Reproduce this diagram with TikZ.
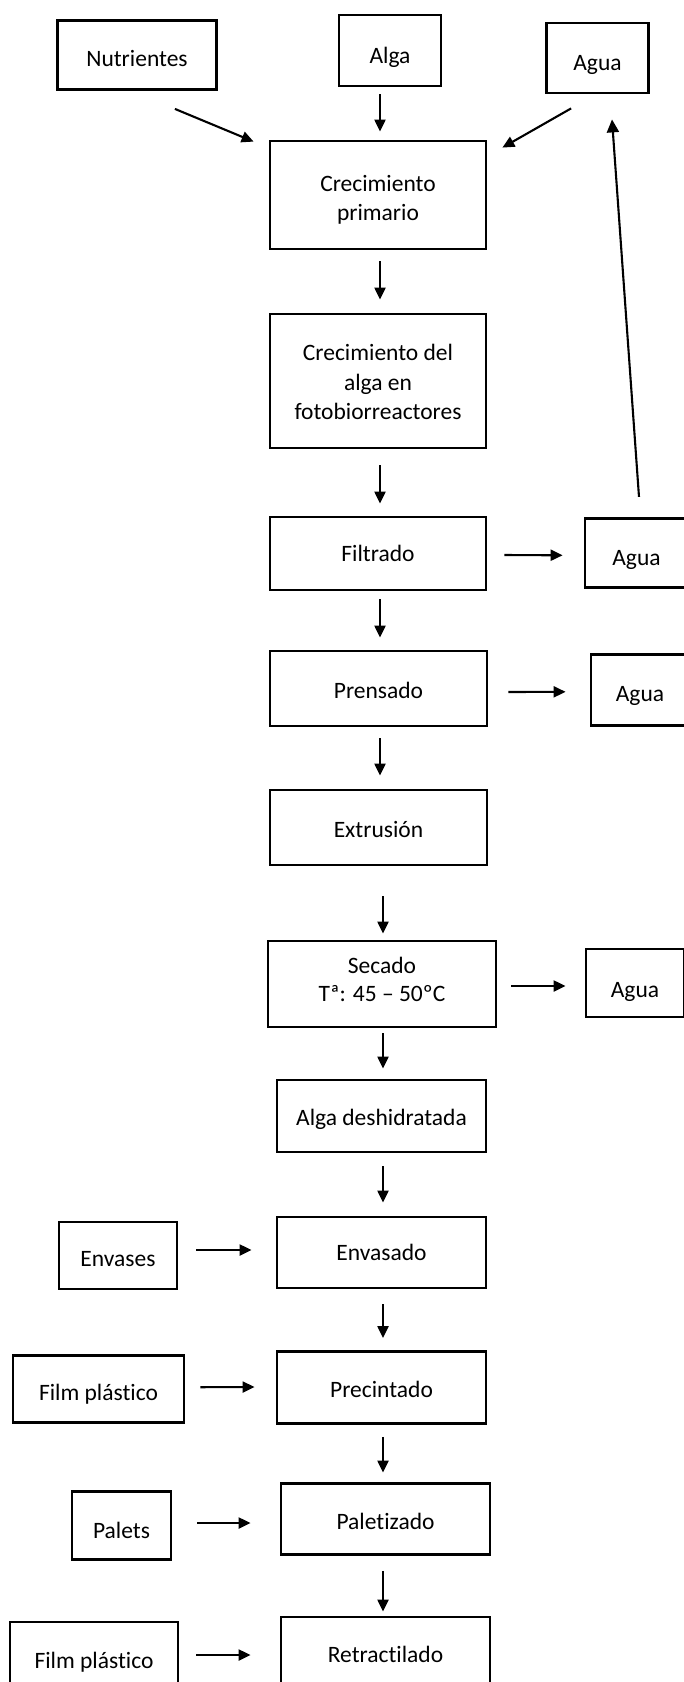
\documentclass[tikz,border=0pt]{standalone}
\usepackage{fontspec}
\setmainfont[Ligatures=NoCommon]{Carlito}
\usetikzlibrary{arrows.meta}
\tikzset{
  pbox/.style={draw, line width=2.8pt, align=center, inner sep=0pt, font=\fontsize{23.5}{29}\selectfont},
  tbase/.style={text height=#1, text depth=0pt},
  arr/.style={line width=2.1pt, -{Triangle[length=12pt,width=11pt]}},
  retl/.style={line width=2.1pt, -{Triangle[length=13pt,width=12pt]}}
}
\begin{document}
\begin{tikzpicture}[x=1pt,y=-1pt]
\useasboundingbox (0,0) rectangle (683,1682);
% top inputs
\node[pbox, tbase=23.4pt, minimum width=159pt, minimum height=69pt] (nut) at (137,55) {Nutrientes};
\node[pbox, tbase=25pt, minimum width=102pt, minimum height=71pt] (alga) at (390,50.5) {Alga};
\node[pbox, tbase=24pt, minimum width=102pt, minimum height=70pt] (aguaT) at (597.5,58) {Agua};
% main column
\node[pbox, font=\fontsize{23.5}{28.3}\selectfont, minimum width=216pt, minimum height=108pt] (cp) at (378,195)
  {\rule{0pt}{27.7pt}Crecimiento\\primario\rule[-6pt]{0pt}{6pt}};
\node[pbox, font=\fontsize{23.5}{29.6}\selectfont, minimum width=216pt, minimum height=134pt] (cda) at (378,381)
  {\rule{0pt}{24.6pt}Crecimiento del\\alga en\\fotobiorreactores\rule[-6pt]{0pt}{6pt}};
\node[pbox, tbase=16.4pt, minimum width=216pt, minimum height=73pt] (fil) at (378,553.5) {Filtrado};
\node[pbox, tbase=20pt, minimum width=217pt, minimum height=75pt] (pre) at (378.5,688.5) {Prensado};
\node[pbox, tbase=19.6pt, minimum width=217pt, minimum height=75pt] (ext) at (378.5,827.5) {Extrusión};
\node[pbox, font=\fontsize{23.5}{28.3}\selectfont, minimum width=228pt, minimum height=86pt] (sec) at (382,984)
  {\rule{0pt}{17pt}Secado\\Tª: 45 – 50ºC\rule[-10.1pt]{0pt}{10.1pt}};
\node[pbox, tbase=18.4pt, minimum width=209pt, minimum height=72pt] (ad) at (381.5,1116) {Alga deshidratada};
\node[pbox, tbase=15pt, minimum width=209pt, minimum height=71pt] (env) at (381.5,1252.5) {Envasado};
\node[pbox, tbase=19.6pt, minimum width=209pt, minimum height=72pt] (prec) at (381.5,1387.5) {Precintado};
\node[pbox, tbase=20.6pt, minimum width=209pt, minimum height=71pt] (pal) at (385.5,1519) {Paletizado};
\node[pbox, tbase=20pt, minimum width=209pt, minimum height=70pt] (ret) at (385.5,1652) {Retractilado};
% right outputs
\node[pbox, tbase=24.4pt, minimum width=103pt, minimum height=69pt] (agua2) at (636.5,552.8) {Agua};
\node[pbox, tbase=22.6pt, minimum width=98pt, minimum height=71pt] (agua3) at (640,690.3) {Agua};
\node[pbox, tbase=28pt, minimum width=98pt, minimum height=68pt] (agua4) at (635,983) {Agua};
% left inputs
\node[pbox, tbase=22pt, minimum width=118pt, minimum height=67pt] (envs) at (118,1255.5) {Envases};
\node[pbox, tbase=22.6pt, minimum width=171pt, minimum height=67pt] (film1) at (98.5,1388.7) {Film plástico};
\node[pbox, tbase=25.6pt, minimum width=99pt, minimum height=68pt] (palets) at (121.5,1525.5) {Palets};
\node[pbox, tbase=24pt, minimum width=168pt, minimum height=68pt] (film2) at (94,1656) {Film plástico};
% arrows
\draw[arr] ([shift={(-43,18)}]nut.south east) -- ([shift={(-15,2)}]cp.north west);
\draw[arr] ([shift={(-10,7)}]alga.south) -- ([shift={(2,-8)}]cp.north);
\draw[arr] ([shift={(26,14)}]aguaT.south west) -- ([shift={(15,8)}]cp.north east);
\draw[arr] ([shift={(2,11)}]cp.south) -- ([shift={(2,-13)}]cda.north);
\draw[arr] ([shift={(2,16)}]cda.south) -- ([shift={(2,-12)}]fil.north);
\draw[arr] ([shift={(17,1.5)}]fil.east) -- ([shift={(-21,2.5)}]agua2.west);
\draw[retl] ([shift={(2.5,-20)}]agua2.north) -- ([shift={(14.5,25)}]aguaT.south);
\draw[arr] ([shift={(2,8)}]fil.south) -- ([shift={(1.5,-12)}]pre.north);
\draw[arr] ([shift={(20,3.5)}]pre.east) -- ([shift={(-24,1.5)}]agua3.west);
\draw[arr] ([shift={(1.5,11)}]pre.south) -- ([shift={(1.5,-13)}]ext.north);
\draw[arr] ([shift={(4.5,30)}]ext.south) -- ([shift={(1,-6)}]sec.north);
\draw[arr] ([shift={(14,2)}]sec.east) -- ([shift={(-19,3)}]agua4.west);
\draw[arr] ([shift={(1,5)}]sec.south) -- ([shift={(1.5,-10)}]ad.north);
\draw[arr] ([shift={(1.5,13)}]ad.south) -- ([shift={(1.5,-13)}]env.north);
\draw[arr] ([shift={(18,-5.5)}]envs.east) -- ([shift={(-24,-2.5)}]env.west);
\draw[arr] ([shift={(1.5,15)}]env.south) -- ([shift={(1.5,-12)}]prec.north);
\draw[arr] ([shift={(15,-1.5)}]film1.east) -- ([shift={(-21,-0.5)}]prec.west);
\draw[arr] ([shift={(1.5,12)}]prec.south) -- ([shift={(-2.5,-9.5)}]pal.north);
\draw[arr] ([shift={(25,-2.5)}]palets.east) -- ([shift={(-29,4)}]pal.west);
\draw[arr] ([shift={(-2.5,15)}]pal.south) -- ([shift={(-2.5,-4)}]ret.north);
\draw[arr] ([shift={(17,-1)}]film2.east) -- ([shift={(-29,3)}]ret.west);
\end{tikzpicture}
\end{document}
